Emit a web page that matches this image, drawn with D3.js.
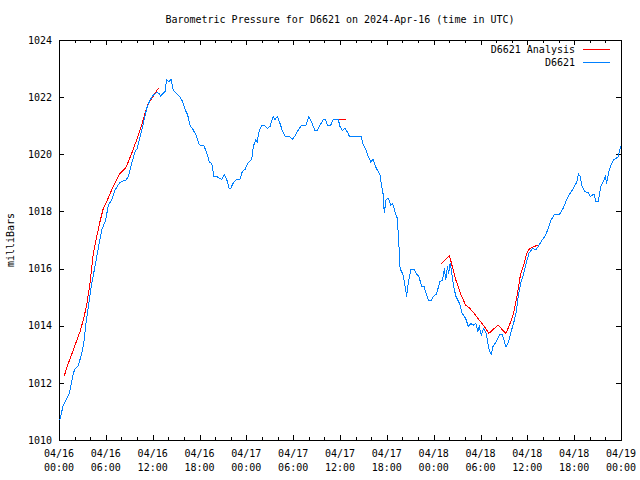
<!DOCTYPE html>
<html>
<head>
<meta charset="utf-8">
<title>Barometric Pressure for D6621</title>
<style>
  body { margin: 0; background: #fff; }
  svg { display: block; font-family: "DejaVu Sans Mono", monospace; font-size: 10px; }
  .axis path, .axis line { stroke: #000; shape-rendering: crispEdges; }
  .series { fill: none; stroke-width: 1px; shape-rendering: crispEdges; }
</style>
<script src="https://cdn.jsdelivr.net/npm/d3@7"></script>
</head>
<body>
<script>
// hours after 2024-04-16 00:00 UTC, pressure in mb
var obsHours = [0.1, 0.55, 0.99, 1.32, 1.83, 2.05, 2.47, 2.91, 3.2, 3.42, 3.88, 4.19, 4.61, 5.03, 5.47, 5.98,
  6.32, 6.75, 7.17, 7.81, 8.58, 8.88, 9.31, 9.74, 10.03, 10.38, 10.8, 11.24, 11.66, 12.08, 12.52, 12.85,
  13.03, 13.36, 13.58, 13.8, 14.09, 14.35, 14.64, 14.95, 15.41, 15.85, 16.14, 16.49, 16.78, 17.2, 17.64,
  17.97, 18.58, 18.92, 19.25, 19.56, 19.86, 20.2, 20.84, 21.18, 21.49, 21.78, 22.0, 22.33, 22.76, 23.19,
  23.48, 23.83, 24.25, 24.69, 24.89, 25.2, 25.4, 25.66, 25.97, 26.39, 26.68, 27.03, 27.45, 27.67, 27.97,
  28.31, 28.66, 28.95, 29.5, 29.89, 30.23, 30.66, 31.09, 31.64, 31.99, 32.37, 32.8, 33.09, 33.44, 33.86,
  34.17, 34.37, 34.81, 35.14, 35.78, 36.0, 36.29, 36.64, 36.93, 37.19, 38.69, 38.98, 39.33, 39.62, 39.93,
  40.26, 40.61, 40.9, 41.12, 41.34, 41.55, 41.67, 41.89, 42.19, 42.49, 42.75, 43.04, 43.34, 43.56, 43.7,
  44.1, 44.32, 44.54, 44.74, 45.09, 45.52, 45.82, 46.12, 46.46, 46.76, 47.02, 47.31, 47.71, 47.93, 48.36,
  48.8, 49.15, 49.37, 49.55, 49.77, 49.9, 50.12, 50.33, 50.55, 50.86, 51.31, 51.65, 52.09, 52.45, 52.75,
  53.06, 53.42, 53.64, 53.84, 54.11, 54.42, 54.73, 54.94, 55.16, 55.38, 55.6, 56.03, 56.48, 56.79, 57.01,
  57.26, 57.57, 57.88, 58.24, 58.58, 58.89, 59.2, 59.54, 59.9, 60.21, 60.65, 61.08, 61.39, 61.75, 62.18,
  62.62, 63.05, 63.5, 64.16, 64.59, 65.03, 65.47, 65.91, 66.35, 66.56, 66.78, 67.01, 67.36, 67.79, 68.1,
  68.54, 68.77, 69.07, 69.42, 69.73, 69.98, 70.16, 70.43, 70.74, 71.05, 71.61, 72.0];
var obsValues = [1010.7, 1011.22, 1011.46, 1011.63, 1012.33, 1012.48, 1012.6, 1013.03, 1013.44, 1014.02, 1014.9, 1015.48, 1016.07, 1016.71, 1017.35, 1017.7,
  1018.22, 1018.4, 1018.75, 1019.02, 1019.1, 1019.22, 1019.68, 1020.09, 1020.2, 1020.62, 1021.08, 1021.61, 1021.9, 1022.07, 1022.16, 1022.13,
  1022.04, 1022.13, 1022.19, 1022.62, 1022.54, 1022.62, 1022.25, 1022.16, 1022.04, 1021.84, 1021.58, 1021.37, 1021.02, 1020.85, 1020.62,
  1020.33, 1020.29, 1020.06, 1019.74, 1019.68, 1019.22, 1019.22, 1019.12, 1019.3, 1019.12, 1018.81, 1018.81, 1019.0, 1019.12, 1019.13,
  1019.39, 1019.47, 1019.71, 1019.82, 1020.27, 1020.5, 1020.44, 1020.85, 1021.0, 1021.0, 1020.91, 1020.97, 1021.32, 1021.22, 1021.32,
  1021.08, 1020.79, 1020.64, 1020.62, 1020.52, 1020.64, 1020.85, 1021.02, 1021.02, 1021.32, 1021.12, 1020.83, 1020.83, 1021.02, 1021.22,
  1021.2, 1021.02, 1021.02, 1021.22, 1021.22, 1020.97, 1020.83, 1020.91, 1020.79, 1020.64, 1020.64, 1020.33, 1020.15, 1019.92, 1019.74,
  1019.82, 1019.54, 1019.39, 1019.27, 1018.87, 1018.57, 1017.93, 1018.4, 1018.46, 1018.22, 1018.28, 1017.99, 1017.76, 1016.77, 1016.0,
  1015.77, 1015.42, 1015.02, 1015.48, 1015.98, 1015.98, 1015.81, 1015.72, 1015.37, 1015.39, 1015.13, 1014.9, 1014.9, 1015.02, 1015.11,
  1015.54, 1015.6, 1016.01, 1015.6, 1016.09, 1015.81, 1016.2, 1015.83, 1015.37, 1015.02, 1014.78, 1014.43, 1014.26, 1013.97, 1014.08,
  1014.02, 1014.08, 1013.79, 1013.97, 1013.67, 1013.91, 1013.73, 1013.38, 1013.09, 1013.01, 1013.27, 1013.44, 1013.71, 1013.71, 1013.5,
  1013.25, 1013.41, 1013.76, 1014.08, 1014.49, 1015.13, 1015.54, 1015.83, 1016.24, 1016.53, 1016.71, 1016.65, 1016.77, 1016.94, 1017.1,
  1017.35, 1017.7, 1017.91, 1017.91, 1018.11, 1018.4, 1018.63, 1018.81, 1019.04, 1019.31, 1019.22, 1018.87, 1018.69, 1018.66, 1018.52,
  1018.61, 1018.34, 1018.34, 1018.87, 1019.04, 1019.22, 1018.98, 1019.39, 1019.63, 1019.8, 1019.9, 1020.3];

// analysis runs, null marks a gap between runs
var anaHours = [0.68, 1.19, 1.83, 2.69, 3.11, 3.55, 3.97, 4.39, 4.83, 5.25, 5.68, 6.11, 6.75, 7.17, 7.81, 8.24,
  8.58, 8.88, 9.31, 9.95, 10.59, 11.02, 11.44, 11.88, 12.3, 12.72, null,
  35.91, 36.34, 36.73, null,
  48.94, 49.46, 50.03, 50.33, 50.77, 51.43, 52.09, 52.62, 53.19, 53.84, 54.51, 55.07, 55.6, 56.27, 56.83,
  57.26, 57.79, 58.24, 58.67, 59.11, 59.54, 59.99, 60.34, 60.86, 61.3];
var anaValues = [1012.25, 1012.68, 1013.15, 1013.79, 1014.2, 1014.72, 1015.48, 1016.53, 1017.12, 1017.64, 1018.11, 1018.34, 1018.75, 1018.98, 1019.33, 1019.45,
  1019.54, 1019.74, 1020.03, 1020.5, 1021.02, 1021.43, 1021.78, 1021.96, 1022.13, 1022.31, null,
  1021.2, 1021.22, 1021.22, null,
  1016.15, 1016.3, 1016.45, 1016.13, 1015.66, 1015.13, 1014.72, 1014.61, 1014.43, 1014.2, 1013.97, 1013.73, 1013.87, 1014.02, 1013.85,
  1013.73, 1014.08, 1014.43, 1015.02, 1015.77, 1016.13, 1016.59, 1016.71, 1016.77, 1016.82];

var yTicks = [1010, 1012, 1014, 1016, 1018, 1020, 1022, 1024];
var xTickDays = ['04/16', '04/16', '04/16', '04/16', '04/17', '04/17', '04/17', '04/17', '04/18', '04/18', '04/18', '04/18', '04/19'];
var xTickTimes = ['00:00', '06:00', '12:00', '18:00', '00:00', '06:00', '12:00', '18:00', '00:00', '06:00', '12:00', '18:00', '00:00'];

var start = Date.UTC(2024, 3, 16);
var toDate = h => new Date(start + h * 3600e3);

var width = 640, height = 480;
var plotLeft = 59, plotRight = 621, plotTop = 40, plotBottom = 440;

var x = d3.scaleUtc()
  .domain([toDate(0), toDate(72)])
  .range([plotLeft, plotRight]);
var y = d3.scaleLinear()
  .domain([1010, 1024])
  .range([plotBottom, plotTop]);

var majorTimes = d3.utcHour.every(6).range(toDate(0), toDate(72.1));
var minorTimes = d3.utcHour.every(2).range(toDate(0), toDate(72.1));

var svg = d3.select('body').append('svg')
  .attr('width', width)
  .attr('height', height);

// title
svg.append('text')
  .attr('x', (plotLeft + plotRight) / 2)
  .attr('y', 23)
  .attr('text-anchor', 'middle')
  .text('Barometric Pressure for D6621 on 2024-Apr-16 (time in UTC)');

// y label
svg.append('text')
  .attr('transform', 'translate(14,240) rotate(-90)')
  .attr('text-anchor', 'middle')
  .text('milliBars');

// axes: minor ticks first, major ticks on top
svg.append('g').attr('class', 'axis')
  .attr('transform', `translate(0,${plotBottom})`)
  .call(d3.axisBottom(x).tickValues(minorTimes).tickSize(-3).tickSizeOuter(0).tickFormat(''));
svg.append('g').attr('class', 'axis')
  .attr('transform', `translate(0,${plotBottom})`)
  .call(d3.axisBottom(x).tickValues(majorTimes).tickSize(-5).tickSizeOuter(0).tickFormat(''));
svg.append('g').attr('class', 'axis')
  .attr('transform', `translate(0,${plotTop})`)
  .call(d3.axisTop(x).tickValues(minorTimes).tickSize(-3).tickSizeOuter(0).tickFormat(''));
svg.append('g').attr('class', 'axis')
  .attr('transform', `translate(0,${plotTop})`)
  .call(d3.axisTop(x).tickValues(majorTimes).tickSize(-5).tickSizeOuter(0).tickFormat(''));

var yAxis = svg.append('g').attr('class', 'axis')
  .attr('transform', `translate(${plotLeft},0)`)
  .call(d3.axisLeft(y).tickValues(yTicks).tickSize(-5).tickSizeOuter(0).tickPadding(7).tickFormat(d3.format('d')));
yAxis.selectAll('text').attr('fill', '#000').style('font-size', '10px').style('font-family', '"DejaVu Sans Mono", monospace');
yAxis.select('.domain').remove();
svg.append('g').attr('class', 'axis')
  .attr('transform', `translate(${plotRight},0)`)
  .call(d3.axisRight(y).tickValues(yTicks).tickSize(-5).tickSizeOuter(0).tickFormat(''))
  .select('.domain').remove();

// frame
svg.append('rect')
  .attr('x', plotLeft + 0.5).attr('y', plotTop + 0.5)
  .attr('width', plotRight - plotLeft).attr('height', plotBottom - plotTop)
  .attr('fill', 'none').attr('stroke', '#000')
  .style('shape-rendering', 'crispEdges');

// x tick labels
var xl = svg.append('g').selectAll('text')
  .data(majorTimes)
  .enter().append('text')
  .attr('text-anchor', 'middle')
  .attr('x', d => x(d));
xl.append('tspan').attr('y', 457).text((d, i) => xTickDays[i]);
xl.append('tspan').attr('x', d => x(d)).attr('y', 471).text((d, i) => xTickTimes[i]);

var line = d3.line()
  .defined(d => d.v != null)
  .x(d => x(toDate(d.h)))
  .y(d => y(d.v));

var obs = obsHours.map((h, i) => ({ h: h, v: obsValues[i] }));
var ana = anaHours.map((h, i) => ({ h: h, v: anaValues[i] }));

svg.append('path')
  .attr('class', 'series')
  .attr('stroke', '#ff0000')
  .attr('d', line(ana));

svg.append('path')
  .attr('class', 'series')
  .attr('stroke', '#0080ff')
  .attr('d', line(obs));

// legend
var legend = [
  { name: 'D6621 Analysis', color: '#ff0000' },
  { name: 'D6621', color: '#0080ff' }
];
var lg = svg.append('g').selectAll('g')
  .data(legend)
  .enter().append('g')
  .attr('transform', (d, i) => `translate(0,${53 + i * 13})`);
lg.append('text')
  .attr('x', 575)
  .attr('text-anchor', 'end')
  .text(d => d.name);
lg.append('line')
  .attr('x1', 583).attr('x2', 610)
  .attr('y1', -3.5).attr('y2', -3.5)
  .attr('stroke', d => d.color)
  .style('shape-rendering', 'crispEdges');
</script>
</body>
</html>
